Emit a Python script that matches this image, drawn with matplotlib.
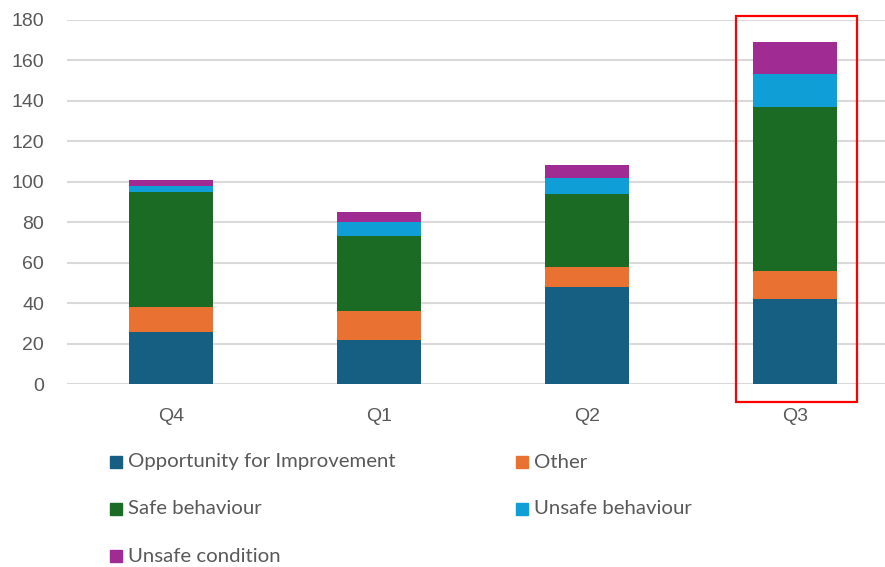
import matplotlib
matplotlib.use("Agg")
import matplotlib.pyplot as plt
from matplotlib.patches import Rectangle

quarters = ["Q4", "Q1", "Q2", "Q3"]
series_names = ["Opportunity for Improvement", "Other", "Safe behaviour",
                "Unsafe behaviour", "Unsafe condition"]
opportunity = [26, 22, 48, 42]
other = [12, 14, 10, 14]
safe_behaviour = [57, 37, 36, 81]
unsafe_behaviour = [3, 7, 8, 16]
unsafe_condition = [3, 5, 6, 16]
y_ticks = [0, 20, 40, 60, 80, 100, 120, 140, 160, 180]

colors = ["#175f82", "#e97132", "#1b6b24", "#0f9ed5", "#a02b93"]
series = [opportunity, other, safe_behaviour, unsafe_behaviour, unsafe_condition]

plt.rcParams["font.family"] = ["Lato", "DejaVu Sans"]

W, H = 885, 567
fig = plt.figure(figsize=(W / 100, H / 100), dpi=100)

# plot area in pixel terms: left 67, right 899 (slightly past the canvas), y 19..384
left, right, top, bottom = 67, 899, 19.5, 384.3
ax = fig.add_axes([left / W, 1 - bottom / H, (right - left) / W, (bottom - top) / H])

x = list(range(len(quarters)))
base = [0] * len(quarters)
for vals, col in zip(series, colors):
    ax.bar(x, vals, width=0.4, bottom=base, color=col, zorder=3)
    base = [b + v for b, v in zip(base, vals)]

ax.set_xlim(-0.5, 3.5)
ax.set_ylim(0, 180)
ax.set_yticks(y_ticks)
ax.set_xticks(x)
ax.set_xticklabels(quarters)
ax.yaxis.grid(True, color="#d9d9d9", linewidth=1.5, zorder=0)
ax.set_axisbelow(True)
for s in ax.spines.values():
    s.set_visible(False)
ax.tick_params(axis="both", length=0, labelsize=14, colors="#595959")
for lbl in ax.get_yticklabels() + ax.get_xticklabels():
    lbl.set_family(["Liberation Sans", "DejaVu Sans"])
ax.tick_params(axis="y", pad=16.5)
ax.tick_params(axis="x", pad=17)

# highlight box around the latest quarter
ax.add_patch(Rectangle((3 - 0.284, -8.6), 0.582, 190.2, fill=False,
                       edgecolor="#ff0000", linewidth=1.6, clip_on=False, zorder=5))

# legend laid out in two columns below the chart
legend_pos = [(110, 462), (516, 462), (110, 509), (516, 509), (110, 556)]
for (px, py), name, col in zip(legend_pos, series_names, colors):
    fig.patches.append(Rectangle((px / W, 1 - (py + 6) / H), 12 / W, 12 / H,
                                 transform=fig.transFigure, color=col, figure=fig))
    fig.text((px + 18) / W, 1 - py / H, name, fontsize=14.7, color="#595959",
             va="center", ha="left")

fig.savefig("out.png", dpi=100)
